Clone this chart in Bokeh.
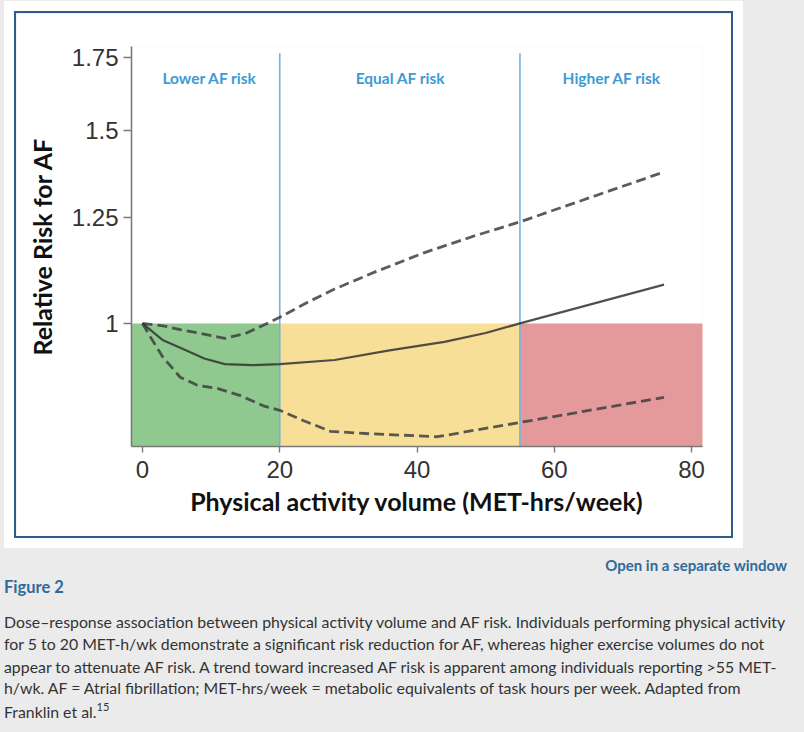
from bokeh.plotting import figure
from bokeh.models import (FixedTicker, CustomJSTickFormatter, ColumnDataSource, Div,
                          GlobalInlineStyleSheet, Range1d)
from bokeh.layouts import column
from bokeh.core.properties import value
from bokeh.embed import file_html
from bokeh.resources import INLINE

# ---------------- data ----------------
x_ticks = [0, 20, 40, 60, 80]
y_ticks = [1, 1.25, 1.5, 1.75]

mid_x = [0, 3, 6, 9, 12, 16, 20, 28, 36, 44, 50, 55, 76]
mid_y = [1.0, 0.965, 0.947, 0.929, 0.918, 0.916, 0.918, 0.926, 0.945, 0.962, 0.980, 1.0, 1.085]

upper_x = [0, 3, 5.5, 8.5, 12, 15, 17.6, 20, 24, 28, 34, 41, 48, 55, 76]
upper_y = [1.0, 0.995, 0.987, 0.979, 0.969, 0.979, 0.996, 1.013, 1.045, 1.075, 1.115, 1.160, 1.200, 1.238, 1.375]

lower_x = [0, 1.2, 3, 5.5, 8, 11, 14.3, 17.6, 20, 23.5, 27.4, 33, 43, 48, 55, 76]
lower_y = [1.0, 0.971, 0.931, 0.893, 0.878, 0.872, 0.859, 0.841, 0.833, 0.815, 0.797, 0.793, 0.788, 0.798, 0.812, 0.856]

zone_names = ["Lower AF risk", "Equal AF risk", "Higher AF risk"]
zone_left = [-5, 20, 55]
zone_right = [20, 55, 90]
zone_top = [1.0, 1.0, 1.0]
zone_label_x = [9.8, 37.6, 68.4]
zone_label_y = [1.675, 1.675, 1.675]
zone_colors = ["#8fc98f", "#f8df98", "#e49a9b"]
boundaries = [20, 55]

caption_lines = [
    "Dose\u2013response association between physical activity volume and AF risk. Individuals performing physical activity",
    "for 5 to 20 MET-h/wk demonstrate a significant risk reduction for AF, whereas higher exercise volumes do not",
    "appear to attenuate AF risk. A trend toward increased AF risk is apparent among individuals reporting >55 MET-",
    "h/wk. AF = Atrial fibrillation; MET-hrs/week = metabolic equivalents of task hours per week. Adapted from",
    "Franklin et al.<span style='position:relative;top:-7px;font-size:11px'>15</span>",
]

# ---------------- chart ----------------
p = figure(width=715, height=523,
           x_range=Range1d(-1.6, 81.6), y_range=Range1d(0.772, 1.79),
           y_axis_type="log", output_backend="svg", toolbar_location=None,
           min_border_left=115, min_border_right=29, min_border_top=33, min_border_bottom=90)
p.outline_line_color = None
p.background_fill_color = "white"
p.border_fill_color = "white"
p.grid.visible = False

zones = ColumnDataSource(dict(left=zone_left, right=zone_right, top=zone_top,
                              bottom=[0.5] * len(zone_left), color=zone_colors))
p.quad(left="left", right="right", top="top", bottom="bottom", fill_color="color",
       line_color=None, source=zones)

p.segment(x0=boundaries, x1=boundaries, y0=[0.5] * len(boundaries), y1=[1.765] * len(boundaries),
          line_color="#72b2e0", line_width=1.6)

p.line(upper_x, upper_y, line_color="#3f3f3f", line_alpha=0.85, line_width=2.8, line_dash="10 5")
p.line(lower_x, lower_y, line_color="#3f3f3f", line_alpha=0.85, line_width=2.8, line_dash="10 5")
p.line(mid_x, mid_y, line_color="#333333", line_alpha=0.85, line_width=2.2)

p.text(x=zone_label_x, y=zone_label_y, text=zone_names, text_font=value("Lato"),
       text_font_style="bold", text_font_size="15.5px", text_color="#3d9bd4",
       text_align="center", text_baseline="middle")

for ax in (p.xaxis[0], p.yaxis[0]):
    ax.axis_line_color = "#7a7a7a"
    ax.axis_line_width = 1.6
    ax.major_tick_line_color = "#7a7a7a"
    ax.major_tick_line_width = 1.4
    ax.major_tick_in = 0
    ax.minor_tick_line_color = None
    ax.major_label_text_font = "Liberation Sans"
    ax.major_label_text_font_size = "24px"
    ax.major_label_text_color = "#333333"
    ax.axis_label_text_font = "Lato"
    ax.axis_label_text_font_style = "bold"
    ax.axis_label_text_font_size = "25px"
    ax.axis_label_text_color = "#111111"

p.xaxis.ticker = FixedTicker(ticks=x_ticks)
p.xaxis.major_tick_out = 6
p.xaxis.major_label_standoff = 8
p.xaxis.axis_label = "Physical activity volume (MET-hrs/week)"
p.xaxis.axis_label_standoff = 5

p.yaxis.ticker = FixedTicker(ticks=y_ticks)
p.yaxis.formatter = CustomJSTickFormatter(code="return String(tick)")
p.yaxis.major_tick_out = 8
p.yaxis.major_label_standoff = 5
p.yaxis.axis_label = "Relative Risk for AF"
p.yaxis.axis_label_standoff = 12

p.margin = (13, 0, 12, 16)
p.styles = {"outline": "2px solid #2c5b8c", "box-shadow": "0 0 0 12px white"}

# ---------------- caption ----------------
body = ""
tops = [63, 85, 108, 129, 153]
for t, line in zip(tops, caption_lines):
    body += (f"<div style='position:absolute;left:4px;top:{t}px;white-space:nowrap;"
             f"font-family:Lato;font-size:15.85px;line-height:22px;color:#333;'>{line}</div>")

html = (
    "<div style='position:relative;width:804px;height:184px;'>"
    "<div style='position:absolute;right:17px;top:7px;white-space:nowrap;font-family:Lato;"
    "font-weight:bold;font-size:15px;line-height:20px;color:#2f6a9b'>Open in a separate window</div>"
    "<div style='position:absolute;left:4px;top:28px;white-space:nowrap;font-family:Lato;"
    "font-weight:bold;font-size:16.5px;line-height:22px;color:#2f6a9b'>Figure 2</div>"
    + body + "</div>"
)
cap = Div(text=html, width=804, height=184, margin=(0, 0, 0, 0))

root = column(p, cap, spacing=0)
root.stylesheets = [GlobalInlineStyleSheet(css="html,body{margin:0;padding:0;background:#ebebeb;}")]

open("out.html", "w").write(file_html(root, INLINE))
